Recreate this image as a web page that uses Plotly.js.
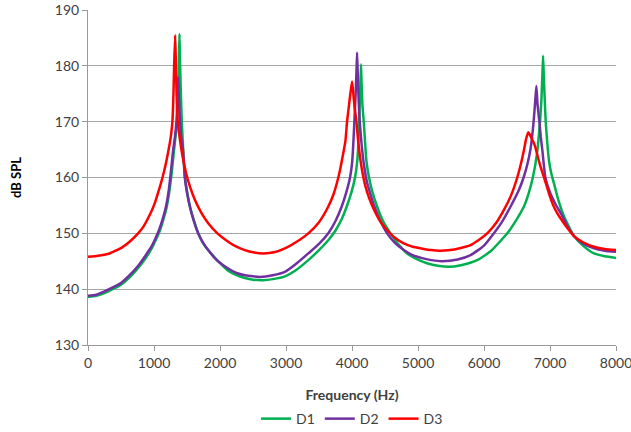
<!DOCTYPE html>
<html>
<head>
<meta charset="utf-8">
<script src="https://cdn.plot.ly/plotly-3.0.1.min.js"></script>
<style>html,body{margin:0;padding:0;background:#fff;}#chart{width:631px;height:432px;}</style>
</head>
<body>
<div id="chart"></div>
<script>
// D1 (green)
const freqD1 = [0, 125, 250, 375, 500, 630, 760, 870, 960, 1030, 1090, 1140, 1190, 1230, 1265, 1300, 1330, 1350, 1365, 1378, 1386, 1394, 1405, 1421, 1446, 1470, 1500, 1545, 1600, 1670, 1740, 1820, 1950, 2124, 2250, 2377, 2500, 2655, 2800, 2984, 3150, 3338, 3500, 3650, 3750, 3850, 3920, 3990, 4046, 4080, 4100, 4115, 4128, 4137, 4145, 4158, 4178, 4200, 4218, 4250, 4300, 4380, 4470, 4582, 4700, 4835, 5000, 5150, 5300, 5468, 5650, 5897, 6100, 6353, 6500, 6605, 6680, 6740, 6800, 6849, 6870, 6885, 6895, 6905, 6920, 6935, 6960, 6985, 7020, 7061, 7130, 7213, 7290, 7364, 7500, 7667, 7830, 8000];
const splD1  = [138.6, 138.8, 139.3, 140.0, 140.8, 142.1, 143.8, 145.5, 147.2, 148.9, 150.5, 152.4, 154.6, 157.3, 160.5, 164.5, 167.8, 170.0, 175.0, 181.0, 185.7, 181.0, 176.0, 170.0, 164.0, 160.0, 157.5, 154.8, 152.5, 150.0, 148.3, 147.0, 145.3, 143.3, 142.5, 142.0, 141.7, 141.6, 141.8, 142.3, 143.4, 145.2, 147.0, 148.9, 150.5, 152.7, 154.8, 157.3, 160.0, 163.0, 167.0, 172.0, 177.0, 180.3, 177.0, 173.0, 170.0, 166.0, 163.0, 160.5, 157.8, 154.8, 152.2, 150.0, 148.1, 146.4, 145.3, 144.6, 144.2, 144.0, 144.3, 145.2, 146.8, 150.0, 152.6, 154.8, 157.3, 160.0, 164.0, 170.0, 174.0, 178.5, 181.8, 178.5, 174.0, 170.0, 166.0, 163.0, 160.7, 158.9, 155.8, 153.0, 151.1, 149.5, 147.8, 146.4, 145.9, 145.6];

// D2 (purple)
const freqD2 = [0, 125, 250, 375, 500, 630, 760, 870, 960, 1030, 1085, 1140, 1185, 1225, 1260, 1290, 1320, 1340, 1355, 1366, 1378, 1395, 1415, 1440, 1467, 1500, 1543, 1600, 1669, 1740, 1821, 1950, 2124, 2250, 2377, 2500, 2604, 2800, 2984, 3150, 3338, 3500, 3641, 3750, 3844, 3910, 3970, 4000, 4015, 4036, 4055, 4068, 4077, 4086, 4100, 4117, 4145, 4178, 4230, 4280, 4330, 4430, 4532, 4650, 4785, 4900, 5050, 5200, 5366, 5600, 5796, 6000, 6150, 6280, 6403, 6530, 6600, 6660, 6706, 6748, 6775, 6793, 6812, 6839, 6860, 6884, 6930, 7000, 7080, 7162, 7260, 7364, 7500, 7667, 7830, 8000];
const splD2  = [138.8, 139.0, 139.6, 140.3, 141.1, 142.5, 144.2, 146.0, 147.6, 149.3, 150.9, 152.9, 155.0, 157.8, 161.5, 164.9, 167.5, 170.0, 174.0, 178.0, 174.0, 170.0, 167.0, 164.9, 160.0, 157.3, 154.8, 152.3, 150.0, 148.4, 147.0, 145.2, 143.7, 142.9, 142.5, 142.3, 142.2, 142.5, 143.1, 144.5, 146.4, 148.1, 150.0, 152.2, 154.8, 157.2, 160.0, 162.5, 165.0, 170.0, 175.0, 179.0, 182.4, 179.0, 174.0, 170.0, 166.0, 162.5, 159.0, 157.0, 155.1, 152.2, 150.0, 148.3, 147.0, 146.2, 145.6, 145.2, 145.0, 145.3, 146.1, 147.8, 150.0, 152.2, 154.8, 157.8, 160.0, 162.5, 165.2, 169.5, 173.5, 176.4, 173.0, 170.0, 167.3, 164.9, 160.0, 157.3, 155.3, 153.6, 151.4, 149.5, 148.2, 147.3, 146.9, 146.7];

// D3 (red)
const freqD3 = [0, 150, 300, 400, 506, 630, 759, 840, 910, 960, 1012, 1060, 1113, 1150, 1189, 1240, 1262, 1279, 1295, 1305, 1320, 1328, 1340, 1360, 1395, 1430, 1460, 1492, 1550, 1619, 1720, 1821, 1960, 2124, 2250, 2377, 2500, 2655, 2820, 2984, 3150, 3338, 3500, 3641, 3720, 3793, 3830, 3870, 3900, 3925, 3950, 3975, 4001, 4020, 4040, 4067, 4095, 4127, 4160, 4200, 4260, 4330, 4430, 4532, 4650, 4785, 4920, 5050, 5200, 5341, 5550, 5796, 5920, 6049, 6180, 6302, 6410, 6504, 6560, 6605, 6640, 6672, 6710, 6768, 6820, 6860, 6910, 6980, 7050, 7120, 7200, 7280, 7364, 7500, 7667, 7830, 8000];
const splD3  = [145.8, 146.0, 146.3, 146.8, 147.4, 148.5, 150.0, 151.2, 152.7, 153.9, 155.4, 157.2, 159.3, 161.0, 163.0, 166.2, 168.0, 170.0, 175.0, 180.0, 185.5, 182.0, 176.0, 170.0, 166.6, 164.0, 162.2, 160.5, 158.2, 156.0, 153.6, 151.8, 150.0, 148.5, 147.6, 147.0, 146.6, 146.4, 146.6, 147.3, 148.4, 150.0, 152.0, 154.8, 157.0, 160.0, 162.0, 164.5, 166.5, 170.0, 172.5, 175.0, 177.2, 175.0, 172.5, 170.0, 166.3, 163.2, 160.8, 158.6, 156.3, 154.3, 152.1, 150.6, 149.2, 148.2, 147.6, 147.3, 147.0, 146.9, 147.1, 147.9, 148.8, 150.0, 151.8, 154.2, 156.8, 160.0, 162.5, 164.9, 167.0, 168.1, 167.3, 165.8, 163.5, 161.8, 160.0, 157.3, 155.0, 153.4, 152.0, 150.7, 149.5, 148.4, 147.6, 147.2, 147.0];

const seriesNames = ['D1', 'D2', 'D3'];
const xTicks = [0, 1000, 2000, 3000, 4000, 5000, 6000, 7000, 8000];
const yTicks = [130, 140, 150, 160, 170, 180, 190];

const colors = ['#00B050', '#7030A0', '#FF0000'];
const xs = [freqD1, freqD2, freqD3];
const ys = [splD1, splD2, splD3];

const traces = seriesNames.map((n, i) => ({
  x: xs[i], y: ys[i], name: n, type: 'scatter', mode: 'lines',
  line: {color: colors[i], width: 2.5, shape: 'spline', smoothing: 0.5}
}));

const font = 'Lato, "Liberation Sans", sans-serif';
const layout = {
  width: 631, height: 432,
  margin: {l: 88, r: 15, t: 10, b: 87, autoexpand: false},
  paper_bgcolor: '#fff', plot_bgcolor: '#fff',
  font: {family: font, size: 14, color: '#404040'},
  showlegend: true,
  legend: {orientation: 'h', x: 0.5, xanchor: 'center', y: -0.221, yanchor: 'middle',
           font: {family: font, size: 14, color: '#404040'}, itemwidth: 30, traceorder: 'normal'},
  xaxis: {
    range: [0, 8000], tickvals: xTicks, ticktext: xTicks.map(String), automargin: false,
    ticklabeloverflow: 'allow',
    showgrid: false, zeroline: false, showline: true, linecolor: '#999', linewidth: 1,
    ticks: 'outside', ticklen: 5, tickcolor: '#999',
    title: {text: '<b>Frequency (Hz)</b>', font: {family: font, size: 14, color: '#404040'}, standoff: 20}
  },
  yaxis: {
    range: [130, 190], tickvals: yTicks, ticktext: yTicks.map(String), automargin: false,
    showgrid: true, gridcolor: '#a6a6a6', gridwidth: 1, zeroline: false,
    showline: true, linecolor: '#999', linewidth: 1, ticks: 'outside', ticklen: 5, tickcolor: '#999',
    title: {text: '<b>dB SPL</b>', font: {family: font, size: 13, color: '#000'}, standoff: 30}
  }
};

Plotly.newPlot('chart', traces, layout, {staticPlot: true, displayModeBar: false});
</script>
</body>
</html>
